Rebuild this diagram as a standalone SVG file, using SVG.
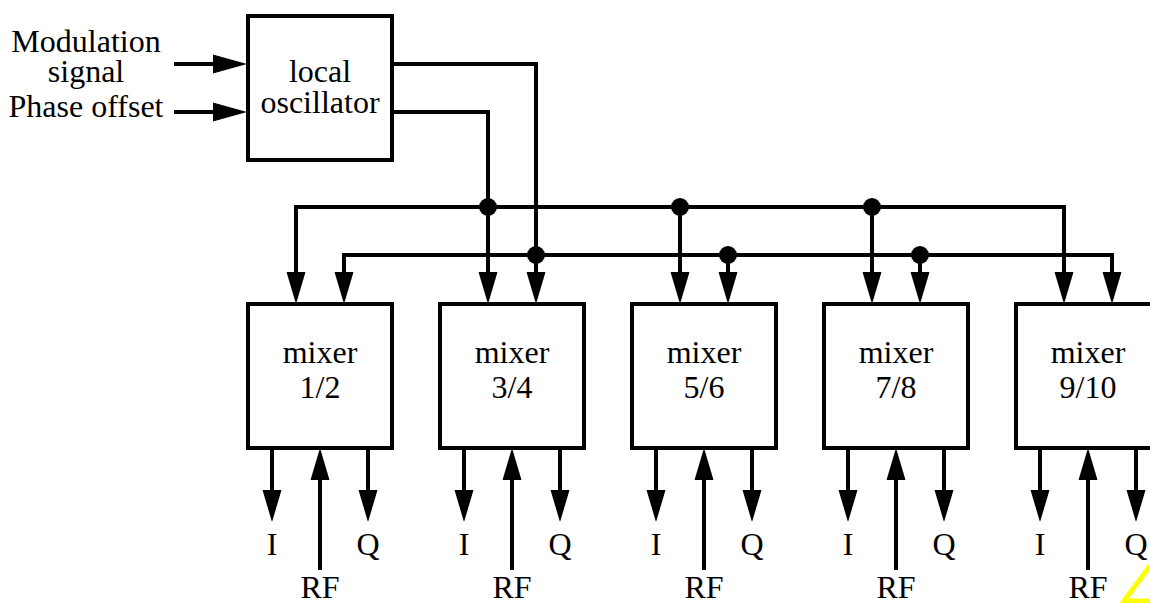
<svg xmlns="http://www.w3.org/2000/svg" xmlns:xlink="http://www.w3.org/1999/xlink" width="1150" height="603" viewBox="0 0 1150 603">
<style>
.box{fill:#fff;stroke:#000;stroke-width:4}
.ln{fill:none;stroke:#000;stroke-width:4;stroke-linejoin:miter;stroke-linecap:butt}
.t{font-family:"Liberation Serif","Times New Roman",serif;font-size:32px;fill:#000;text-anchor:middle}
.dot{fill:#000}
.ah{fill:#000}
</style>
<defs>
<path id="ad" class="ah" d="M-9.5,-32 L0,0 L9.5,-32 Z"/>
<path id="au" class="ah" d="M-9.5,32 L0,0 L9.5,32 Z"/>
<path id="ar" class="ah" d="M-34,-9.5 L0,0 L-34,9.5 Z"/>
</defs>
<rect width="1150" height="603" fill="#fff"/>
<g id="inputs">
<text class="t" x="86" y="52">Modulation</text>
<text class="t" x="86" y="82">signal</text>
<text class="t" x="86" y="117">Phase offset</text>
</g>
<g id="lo">
<rect class="box" x="248" y="16" width="144" height="144"/>
<text class="t" x="320" y="82">local</text>
<text class="t" x="320" y="113">oscillator</text>
</g>
<g id="mixer12">
<rect class="box" x="248" y="304" width="144" height="144"/>
<text class="t" x="320" y="363">mixer</text>
<text class="t" x="320" y="398">1/2</text>
<text class="t" x="272" y="555">I</text>
<text class="t" x="368" y="555">Q</text>
<text class="t" x="320" y="598">RF</text>
</g>
<g id="mixer34">
<rect class="box" x="440" y="304" width="144" height="144"/>
<text class="t" x="512" y="363">mixer</text>
<text class="t" x="512" y="398">3/4</text>
<text class="t" x="464" y="555">I</text>
<text class="t" x="560" y="555">Q</text>
<text class="t" x="512" y="598">RF</text>
</g>
<g id="mixer56">
<rect class="box" x="632" y="304" width="144" height="144"/>
<text class="t" x="704" y="363">mixer</text>
<text class="t" x="704" y="398">5/6</text>
<text class="t" x="656" y="555">I</text>
<text class="t" x="752" y="555">Q</text>
<text class="t" x="704" y="598">RF</text>
</g>
<g id="mixer78">
<rect class="box" x="824" y="304" width="144" height="144"/>
<text class="t" x="896" y="363">mixer</text>
<text class="t" x="896" y="398">7/8</text>
<text class="t" x="848" y="555">I</text>
<text class="t" x="944" y="555">Q</text>
<text class="t" x="896" y="598">RF</text>
</g>
<g id="mixer910">
<rect class="box" x="1016" y="304" width="144" height="144"/>
<text class="t" x="1088" y="363">mixer</text>
<text class="t" x="1088" y="398">9/10</text>
<text class="t" x="1040" y="555">I</text>
<text class="t" x="1136" y="555">Q</text>
<text class="t" x="1088" y="598">RF</text>
</g>
<g id="connectors">
<path class="ln" d="M174,64 H220"/>
<path class="ln" d="M174,112 H220"/>
<use xlink:href="#ar" x="247" y="64"/>
<use xlink:href="#ar" x="247" y="112"/>
<path class="ln" d="M392,64 H536 V280"/>
<path class="ln" d="M392,112 H488 V280"/>
<path class="ln" d="M296,280 V207 H1064 V280"/>
<path class="ln" d="M344,280 V255 H1112 V280"/>
<path class="ln" d="M680,207 V280"/>
<path class="ln" d="M728,255 V280"/>
<path class="ln" d="M872,207 V280"/>
<path class="ln" d="M920,255 V280"/>
<use xlink:href="#ad" x="296" y="304"/>
<use xlink:href="#ad" x="344" y="304"/>
<use xlink:href="#ad" x="488" y="304"/>
<use xlink:href="#ad" x="536" y="304"/>
<use xlink:href="#ad" x="680" y="304"/>
<use xlink:href="#ad" x="728" y="304"/>
<use xlink:href="#ad" x="872" y="304"/>
<use xlink:href="#ad" x="920" y="304"/>
<use xlink:href="#ad" x="1064" y="304"/>
<use xlink:href="#ad" x="1112" y="304"/>
<circle class="dot" cx="488" cy="207" r="9"/>
<circle class="dot" cx="536" cy="255" r="9"/>
<circle class="dot" cx="680" cy="207" r="9"/>
<circle class="dot" cx="728" cy="255" r="9"/>
<circle class="dot" cx="872" cy="207" r="9"/>
<circle class="dot" cx="920" cy="255" r="9"/>
<path class="ln" d="M272,448 V500 M368,448 V500 M320,570 V470"/>
<path class="ln" d="M464,448 V500 M560,448 V500 M512,570 V470"/>
<path class="ln" d="M656,448 V500 M752,448 V500 M704,570 V470"/>
<path class="ln" d="M848,448 V500 M944,448 V500 M896,570 V470"/>
<path class="ln" d="M1040,448 V500 M1136,448 V500 M1088,570 V470"/>
<use xlink:href="#ad" x="272" y="522"/>
<use xlink:href="#ad" x="368" y="522"/>
<use xlink:href="#au" x="320" y="448"/>
<use xlink:href="#ad" x="464" y="522"/>
<use xlink:href="#ad" x="560" y="522"/>
<use xlink:href="#au" x="512" y="448"/>
<use xlink:href="#ad" x="656" y="522"/>
<use xlink:href="#ad" x="752" y="522"/>
<use xlink:href="#au" x="704" y="448"/>
<use xlink:href="#ad" x="848" y="522"/>
<use xlink:href="#ad" x="944" y="522"/>
<use xlink:href="#au" x="896" y="448"/>
<use xlink:href="#ad" x="1040" y="522"/>
<use xlink:href="#ad" x="1136" y="522"/>
<use xlink:href="#au" x="1088" y="448"/>
</g>
<path d="M1150,566 L1124,601 H1150" fill="none" stroke="#ffff00" stroke-width="5"/>
</svg>
